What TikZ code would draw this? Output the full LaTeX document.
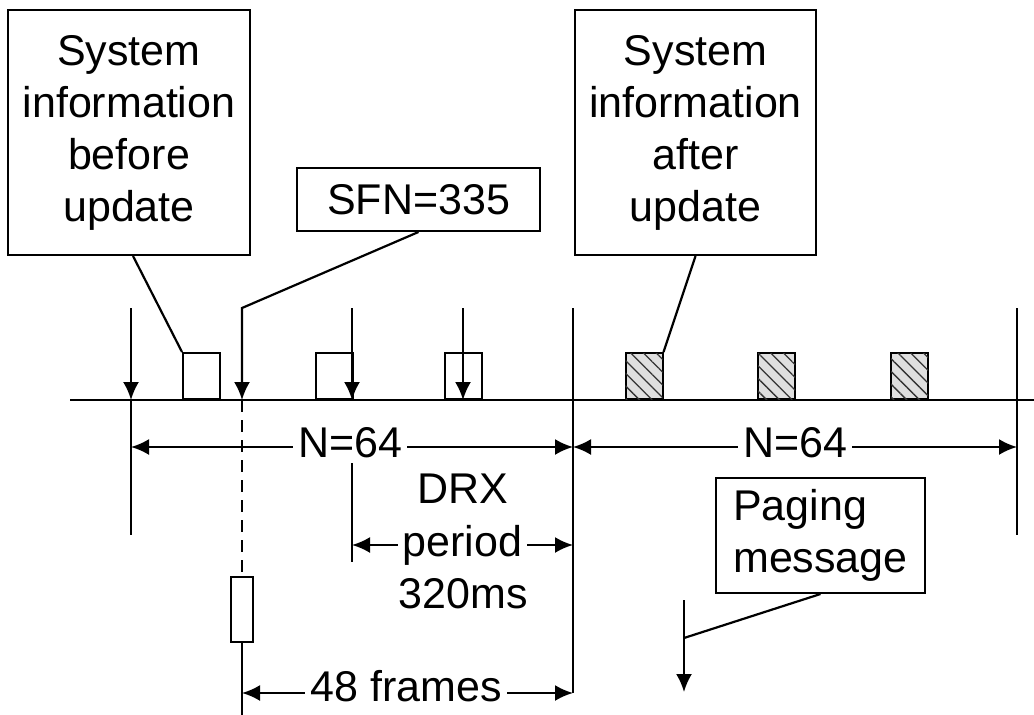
\documentclass[tikz,border=0pt]{standalone}
\usepackage{fontspec}
\setmainfont{Liberation Sans}
\usetikzlibrary{arrows.meta,patterns.meta}

\tikzset{
  >={Latex[length=18pt,width=16pt]},
  infobox/.style={draw, line width=2pt, align=center, inner sep=0pt},
  slot/.style={draw, line width=2pt, minimum width=37pt, minimum height=46pt, inner sep=0pt, anchor=south},
  newslot/.style={slot, fill=gray!25, postaction={pattern={Lines[angle=-45,distance=9pt,line width=1.3pt]}, pattern color=black!80}},
  lbl/.style={fill=white, inner xsep=5pt, inner ysep=1pt},
}

\begin{document}
\begin{tikzpicture}[x=1pt, y=-1pt, line width=2.2pt, font=\fontsize{43}{52}\selectfont]
  \useasboundingbox (0,0) rectangle (1034,715);

  % Zeitachse
  \draw (70,400) -- (1034,400);
  \coordinate (t0) at (131,400);
  \coordinate (t1) at (573,400);
  \coordinate (t2) at (1017,400);

  % Grenzen der Aenderungsperioden
  \draw[->] (131,308) -- (t0);
  \draw (t0) -- (131,535);
  \draw (573,308) -- (t1) -- (573,693);
  \draw (1017,308) -- (t2) -- (1017,535);

  % Systeminformation vor der Aenderung
  \node[slot] (s1) at (201.5,400) {};
  \node[slot] (s2) at (334.5,400) {};
  \node[slot] (s3) at (463,400) {};
  \draw[->] (352,308) -- (352,400);
  \draw[->] (463,308) -- (s3.south);

  % Systeminformation nach der Aenderung
  \foreach \x [count=\i] in {644,776.5,909.5}
    \node[newslot] (h\i) at (\x,400) {};

  % Beschriftungen
  \node[infobox, minimum width=242pt, minimum height=245pt] (sib) at (129,132.5) {System\\information\\before\\update};
  \node[infobox, minimum width=241pt, minimum height=245pt] (sia) at (695.5,132.5) {System\\information\\after\\update};
  \node[infobox, minimum width=243pt, minimum height=63pt] (sfn) at (418.5,199.5) {SFN=335};
  \node[infobox, align=left, minimum width=209pt, minimum height=115pt] (pm) at (820.5,535.5) {Paging\\message};

  \draw ([xshift=4pt]sib.south) -- (s1.north west);
  \draw (sia.south) -- (h1.north east);

  % SFN=335
  \coordinate (sfnk) at (242,308);
  \coordinate (sfnp) at (242,400);
  \draw[->] (sfn.south) -- (sfnk) -- (sfnp);
  \node[draw, line width=2pt, minimum width=22pt, minimum height=65pt, inner sep=0pt] (fb) at (242,609.5) {};
  \draw[line width=1.6pt, dash pattern=on 12pt off 8pt] (sfnp) -- (fb.north);
  \draw (fb.south) -- (242,715);

  % Periodenlaengen
  \draw[<->] (131,447) -- (573,447);
  \node[lbl] (n1) at (350,443) {N=64};
  \draw[<->] (573,447) -- (1017,447);
  \node[lbl] (n2) at (795,443) {N=64};

  % DRX-Zyklus
  \draw (352,463) -- (352,562);
  \node (drx) at (463,488.5) {DRX};
  \draw[<->] (352,545) -- (573,545) node[lbl, midway] (per) {period};
  \node (ms) at (463,593.5) {320ms};

  % 48 Rahmen
  \draw[<->] (242,693) -- (573,693);
  \node[lbl] (fr) at (406,686) {48 frames};

  % Paging
  \coordinate (pa) at (684,600);
  \coordinate (pb) at (684,692);
  \coordinate (pk) at (684,638);
  \draw[->] (pa) -- (pb);
  \draw (pm.south) -- (pk);
\end{tikzpicture}
\end{document}
